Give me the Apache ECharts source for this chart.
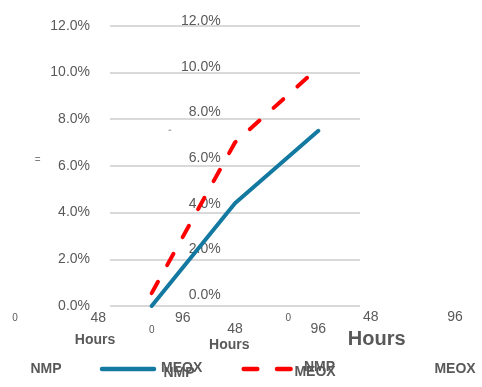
<!DOCTYPE html>
<html>
<head>
<meta charset="utf-8">
<style>
  html, body { margin: 0; padding: 0; background: #ffffff; }
  #chart { width: 482px; height: 387px; }
</style>
<script src="https://cdn.jsdelivr.net/npm/echarts@6/dist/echarts.min.js"></script>
</head>
<body>
<div id="chart"></div>
<script>
// ---- data ----
const hours = ['0', '48', '96'];
const nmpValues = [0.0, 4.4, 7.5];
const meoxValues = [0.55, 7.0, 10.2];
const seriesNames = ['NMP', 'MEOX'];
const axisTitle = 'Hours';
const yMin = 0, yMax = 12, yStep = 2;

const txt = '#595959';
const font = 'Liberation Sans, Arial, sans-serif';

function T(text, x, y, size, bold, color) {
  return {
    type: 'text', x: x, y: y, z: 5,
    style: {
      text: text, fill: color || txt, font: (bold ? 'bold ' : '') + size + 'px ' + font,
      textAlign: 'center', textVerticalAlign: 'middle'
    }
  };
}

const chart = echarts.init(document.getElementById('chart'), null, { renderer: 'canvas' });

const ghostX = [];
// stray tick label set to the left
ghostX.push(T(hours[0], 15, 318.5, 10, false));
ghostX.push(T(hours[1], 98.3, 317.7, 14, false));
ghostX.push(T(hours[2], 182.7, 317.7, 14, false));
// stray tick label set to the right
ghostX.push(T(hours[0], 288.3, 318.5, 10, false));
ghostX.push(T(hours[1], 370.7, 317, 14, false));
ghostX.push(T(hours[2], 455, 317, 14, false));
// axis titles
ghostX.push(T(axisTitle, 95, 340, 14, true));
ghostX.push(T(axisTitle, 229.3, 345, 14, true));
ghostX.push(T(axisTitle, 376.7, 339, 20, true));
// tiny marks
ghostX.push(T('=', 37.7, 160, 10, false, '#7f7f7f'));
ghostX.push(T('ˆ', 170, 135, 10, false, '#7f7f7f'));

// legend
const legendEls = [
  T(seriesNames[0], 46, 369, 14, true),
  { type: 'line', z: 5, shape: { x1: 102, y1: 369, x2: 154, y2: 369 },
    style: { stroke: '#1479A0', lineWidth: 4.5, lineCap: 'round' } },
  T(seriesNames[1], 181.7, 367.7, 14, true),
  T(seriesNames[0], 179, 373, 14, true),
  { type: 'line', z: 5, shape: { x1: 243.7, y1: 369, x2: 290.7, y2: 369 },
    style: { stroke: '#FF0000', lineWidth: 4.5, lineCap: 'round', lineDash: [13.6, 19.7] } },
  T(seriesNames[0], 319.5, 367, 14, true),
  T(seriesNames[1], 315, 372.5, 14, true),
  T(seriesNames[1], 455, 369, 14, true)
];

const option = {
  backgroundColor: '#ffffff',
  animation: false,
  grid: [
    { left: 110, right: 122, top: 25.7, bottom: 81 },
    { left: 228.7, right: 200, top: 21.3, bottom: 91.7 }
  ],
  xAxis: [
    {
      type: 'category', gridIndex: 0, data: hours, boundaryGap: true,
      axisLine: { show: false }, axisTick: { show: false },
      axisLabel: {
        margin: 16, color: txt, fontSize: 14, fontFamily: font,
        formatter: v => v === hours[0] ? '{s|' + v + '}' : v,
        rich: { s: { fontSize: 10, color: txt, fontFamily: font, padding: [3, 0, 0, 0] } }
      }
    },
    { type: 'category', gridIndex: 1, data: hours, show: false }
  ],
  yAxis: [
    {
      type: 'value', gridIndex: 0, min: yMin, max: yMax, interval: yStep,
      axisLine: { show: false }, axisTick: { show: false },
      axisLabel: { margin: 20, color: txt, fontSize: 14, fontFamily: font,
        formatter: v => v.toFixed(1) + '%' },
      splitLine: { lineStyle: { color: '#d9d9d9', width: 2 } }
    },
    {
      type: 'value', gridIndex: 1, min: yMin, max: yMax, interval: yStep,
      axisLine: { show: false }, axisTick: { show: false },
      axisLabel: { margin: 8, color: txt, fontSize: 14, fontFamily: font,
        formatter: v => v.toFixed(1) + '%' },
      splitLine: { show: false }
    }
  ],
  series: [
    {
      name: seriesNames[0], type: 'line', xAxisIndex: 0, yAxisIndex: 0,
      data: nmpValues, showSymbol: false, smooth: false, z: 3,
      lineStyle: { color: '#1479A0', width: 4, cap: 'round', join: 'round' }
    },
    {
      name: seriesNames[1], type: 'line', xAxisIndex: 0, yAxisIndex: 0,
      data: meoxValues, showSymbol: false, smooth: false, z: 3,
      lineStyle: { color: '#FF0000', width: 4, type: [13, 19], cap: 'round', join: 'round' }
    }
  ],
  graphic: ghostX.concat(legendEls)
};

chart.setOption(option);
</script>
</body>
</html>
